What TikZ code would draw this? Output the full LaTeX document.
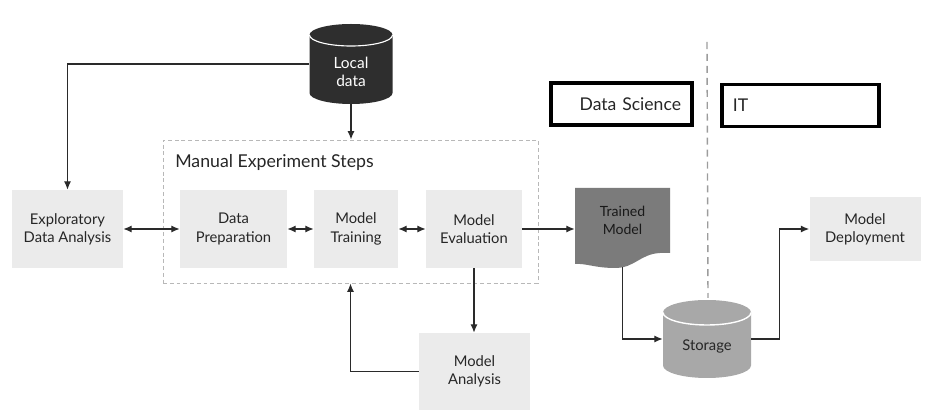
\documentclass[tikz,border=0pt]{standalone}
\usepackage{fontspec}
\setmainfont{Lato}
\usepackage{xcolor}
\usetikzlibrary{arrows.meta}
\usetikzlibrary{calc}

\definecolor{boxgray}{HTML}{EBEBEB}
\definecolor{docgray}{HTML}{7B7B7B}
\definecolor{storegray}{HTML}{A8A8A8}
\definecolor{diskdark}{HTML}{2E2E2E}
\definecolor{linedark}{HTML}{2A2A2A}
\definecolor{dashgray}{HTML}{B8B8B8}
\definecolor{textdark}{HTML}{262626}

\tikzset{
  stepbox/.style={fill=boxgray, text=textdark, align=center, inner sep=0pt, font=\fontsize{10.5}{13}\selectfont},
  flow/.style={draw=linedark, line width=0.95pt, -{Latex[length=2.1mm,width=1.8mm]}},
  biflow/.style={draw=linedark, line width=0.95pt, {Latex[length=2.1mm,width=1.8mm]}-{Latex[length=2.1mm,width=1.8mm]}},
  rolebox/.style={draw=black, line width=2.6pt, minimum height=1.05cm, inner xsep=0.275cm, font=\fontsize{12.5}{15}\selectfont, text=textdark},
  divider/.style={draw=dashgray!85!black, line width=1pt, dash pattern=on 5pt off 3.5pt}
}

\begin{document}
\begin{tikzpicture}[x=0.025cm, y=0.025cm]
        \newcommand{\figmlopsunit}{0.025cm}
        \newcommand{\figmlopsrowy}{-229}
        \newcommand{\figmlopsboxheight}{78*\figmlopsunit}
        \useasboundingbox (0,0) rectangle (936,-418);
        % the two data stores
        \fill[diskdark] (309.5,-35) -- (309.5,-93) arc[start angle=180, end angle=360, x radius=41.5, y radius=11] -- (392.5,-35) arc[start angle=0, end angle=180, x radius=41.5, y radius=11] -- cycle;
        \draw[white, line width=0.8pt] (309.5,-35) arc[start angle=180, end angle=360, x radius=41.5, y radius=11];
        \node[minimum width=83*\figmlopsunit, minimum height=64*\figmlopsunit, text=white, align=center, font=\fontsize{11}{13}\selectfont] (local) at (351,-72) {Local\\data};
        \fill[storegray] (663,-312.5) -- (663,-365.5) arc[start angle=180, end angle=360, x radius=44, y radius=12.5] -- (751,-312.5) arc[start angle=0, end angle=180, x radius=44, y radius=12.5] -- cycle;
        \draw[white, line width=1pt] (663,-312.5) arc[start angle=180, end angle=360, x radius=44, y radius=12.5];
        \node[minimum width=88*\figmlopsunit, minimum height=62*\figmlopsunit, text=textdark, font=\fontsize{10.5}{13}\selectfont] (storage) at (707,-347) {Storage};
        % trained model document
        \fill[docgray] (575,-188) -- (670,-188) -- (670,-253) -- (660,-253) .. controls (640,-254) and (635,-268) .. (615,-268) .. controls (595,-268) and (585,-263) .. (575,-264) -- cycle;
        \node[minimum width=95*\figmlopsunit, minimum height=65*\figmlopsunit, align=center, text=black!90, font=\fontsize{10}{12.5}\selectfont] (trained) at (622.5,-220.5) {Trained\\Model};
        % manual experiment steps
        \node[draw=dashgray, line width=0.7pt, dash pattern=on 2.8pt off 2pt, minimum width=375*\figmlopsunit, minimum height=143*\figmlopsunit] (manual) at (350.5,-211.5) {};
        \node[anchor=west, inner sep=0pt, text=textdark, font=\fontsize{12.6}{15}\selectfont] (manualtitle) at (175,-162) {Manual Experiment Steps};
        \node[stepbox, minimum width=111*\figmlopsunit, minimum height=\figmlopsboxheight] (eda) at (67.5,\figmlopsrowy) {Exploratory\\Data Analysis};
        \node[stepbox, minimum width=107*\figmlopsunit, minimum height=\figmlopsboxheight] (prep) at (233.5,\figmlopsrowy) {Data\\Preparation};
        \node[stepbox, minimum width=84*\figmlopsunit, minimum height=\figmlopsboxheight] (train) at (356,\figmlopsrowy) {Model\\Training};
        \node[stepbox, minimum width=96*\figmlopsunit, minimum height=\figmlopsboxheight] (eval) at (474,\figmlopsrowy) {Model\\Evaluation};
        \node[stepbox, minimum width=111*\figmlopsunit, minimum height=77*\figmlopsunit] (analysis) at (474.5,-371.5) {Model\\Analysis};
        \node[stepbox, minimum width=111*\figmlopsunit, minimum height=64*\figmlopsunit] (deploy) at (865,\figmlopsrowy) {Model\\Deployment};
        % roles
        \node[rolebox, text width=2.975cm, align=right] (datasci) at (621.5,-104) {Data Science};
        \node[rolebox, text width=3.375cm, align=left] (itops) at (800.5,-105.5) {IT};
        \draw[divider] (storage.north |- 0,-42) -- (708,-298);
        % connectors
        \coordinate (trainedfoot) at ([yshift=-0.35cm]trained.south);
        \draw[flow] ([yshift=0.2cm]local.west) -| (eda.north);
        \draw[flow] (local.south) -- (local.south |- manual.north);
        \draw[biflow] (eda.east) -- (prep.west);
        \draw[biflow] (prep.east) -- (train.west);
        \draw[biflow] (train.east) -- (eval.west);
        \draw[flow] (eval.east) -- (eval.east -| trained.west);
        \draw[flow] (eval.south) -- (eval.south |- analysis.north);
        \draw[flow] (analysis.west) -| (manual.south);
        \draw[flow] (trainedfoot) |- ([yshift=0.2cm]storage.west);
        \draw[flow] ([yshift=0.2cm]storage.east) -- ++(28,0) |- (deploy.west);
    \end{tikzpicture}
\end{document}
